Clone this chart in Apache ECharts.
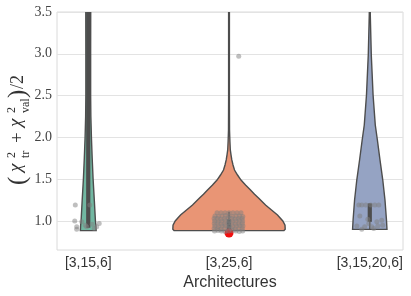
<!DOCTYPE html>
<html>
<head>
<meta charset="utf-8">
<script src="https://cdn.jsdelivr.net/npm/echarts@6/dist/echarts.min.js"></script>
<style>html,body{margin:0;padding:0;background:#fff;}#c{width:411px;height:296px;}</style>
</head>
<body>
<div id="c"></div>
<script>
const categories = ['[3,15,6]', '[3,25,6]', '[3,15,20,6]'];
const yTicks = [1.0, 1.5, 2.0, 2.5, 3.0, 3.5];

// violin profiles: [value, half-width in category units]
const profile1 = [[0.885,0.0560],[0.95,0.0540],[1.0,0.0510],[1.25,0.0430],[1.5,0.0345],[1.75,0.0280],[2.0,0.0225],[2.25,0.0185],[2.5,0.0170],[3.0,0.0170],[3.5,0.0175],[4.0,0.0175]];
const profile2 = [[0.885,0.3907],[0.9,0.3992],[0.95,0.3978],[1.0,0.3822],[1.072,0.3445],[1.132,0.3019],[1.191,0.2593],[1.275,0.2096],[1.32,0.1812],[1.371,0.1527],[1.43,0.1172],[1.49,0.0852],[1.55,0.0604],[1.61,0.0391],[1.67,0.0284],[1.73,0.0199],[1.79,0.0142],[1.85,0.0092],[1.95,0.0064],[2.09,0.0036],[2.5,0.0028],[3.0,0.0028],[3.6,0.0028]];
const profile3 = [[0.90,0.1222],[1.012,0.1186],[1.251,0.1080],[1.49,0.0923],[1.73,0.0725],[1.969,0.0540],[2.148,0.0391],[2.507,0.0234],[2.986,0.0107],[3.464,0.0036],[3.6,0.0028]];
const quartiles = [[0.92, 3.6], [0.90, 1.02], [0.99, 1.21]];
const whiskers = [[0.92, 3.6], [0.88, 1.11], [0.90, 1.21]];

// strip points: [offset from category, value]
const points1 = [[-0.092,1.19],[0.011,1.19],[-0.096,1.0],[-0.046,0.99],[0.078,0.97],[-0.082,0.93],[-0.011,0.93],[0.060,0.93],[-0.082,0.90],[-0.021,0.95],[0.028,0.96],[0.043,0.91]];
const points2 = [
  [-0.085,1.10],[-0.057,1.10],[-0.028,1.10],[0.0,1.10],[0.028,1.10],[0.057,1.10],[0.085,1.10],
  [-0.100,1.06],[-0.075,1.055],[-0.050,1.06],[-0.025,1.065],[0.000,1.06],[0.025,1.055],[0.050,1.06],[0.075,1.06],[0.098,1.055],
  [-0.106,1.03],[-0.083,1.03],[-0.058,1.025],[-0.031,1.03],[-0.006,1.035],[0.019,1.03],[0.044,1.025],[0.068,1.03],[0.093,1.03],
  [-0.102,1.00],[-0.077,0.995],[-0.052,1.00],[-0.027,1.005],[-0.002,1.00],[0.024,0.995],[0.049,1.00],[0.074,1.005],[0.097,1.00],
  [-0.105,0.97],[-0.080,0.97],[-0.055,0.965],[-0.030,0.97],[-0.005,0.975],[0.020,0.97],[0.046,0.965],[0.070,0.97],[0.095,0.97],
  [-0.101,0.94],[-0.076,0.935],[-0.050,0.94],[-0.026,0.945],[0.001,0.94],[0.026,0.935],[0.051,0.94],[0.076,0.945],[0.099,0.94],
  [-0.106,0.91],[-0.081,0.91],[-0.056,0.905],[-0.031,0.91],[-0.006,0.915],[0.019,0.91],[0.045,0.905],[0.070,0.91],[0.094,0.91],
  [-0.103,0.88],[-0.078,0.885],[-0.053,0.88],[-0.028,0.875],[-0.003,0.88],[0.022,0.885],[0.048,0.88],[0.073,0.875],[0.097,0.88],
  [0.069,2.97]];
const points3 = [[-0.078,1.19],[-0.057,1.19],[-0.028,1.19],[0.007,1.19],[0.036,1.19],[0.064,1.19],[-0.071,1.06],[-0.014,1.02],[0.050,0.99],[0.085,1.01],[-0.092,0.94],[-0.036,0.93],[0.014,0.93],[0.057,0.94],[0.092,0.95],[-0.007,0.97],[0.028,0.91],[-0.057,0.90]];
const highlight = [[1, 0.855]];

const profiles = [profile1, profile2, profile3];
const fillColors = ['#71b7a1', '#e99575', '#95a3c3'];
const edge = '#4d4d4d';

const stripData = []
  .concat(points1.map(p => [0 + p[0], p[1]]))
  .concat(points2.map(p => [1 + p[0], p[1]]))
  .concat(points3.map(p => [2 + p[0], p[1]]));

function renderViolin(params, api) {
  const i = params.dataIndex;
  const prof = profiles[i];
  const right = prof.map(d => api.coord([i + d[1], d[0]]));
  const left = prof.slice().reverse().map(d => api.coord([i - d[1], d[0]]));
  const q = quartiles[i], wk = whiskers[i];
  const c0 = api.coord([i, q[0]]), c1 = api.coord([i, q[1]]);
  const w0 = api.coord([i, wk[0]]), w1 = api.coord([i, wk[1]]);
  return {
    type: 'group',
    children: [
      {type: 'polygon', shape: {points: right.concat(left)}, style: {fill: fillColors[i], stroke: edge, lineWidth: 1.4}},
      {type: 'line', shape: {x1: w0[0], y1: w0[1], x2: w1[0], y2: w1[1]}, style: {stroke: edge, lineWidth: 1.3}},
      {type: 'line', shape: {x1: c0[0], y1: c0[1], x2: c1[0], y2: c1[1]}, style: {stroke: edge, lineWidth: 4.2, lineCap: 'butt'}}
    ]
  };
}

const serif = '"Liberation Serif", "DejaVu Serif", serif';
const txt = '#333';
function t(text, x, y, size, italic) {
  return {type: 'text', x: x, y: y, style: {text: text, font: (italic ? 'italic ' : '') + size + 'px ' + serif, fill: txt, align: 'left', verticalAlign: 'middle', textAlign: 'left', textVerticalAlign: 'middle'}};
}

const chart = echarts.init(document.getElementById('c'), null, {renderer: 'canvas'});
chart.setOption({
  animation: false,
  backgroundColor: '#fff',
  grid: {left: 57, right: 8, top: 12, bottom: 46, show: true, borderColor: '#dadada', borderWidth: 1, backgroundColor: 'transparent'},
  xAxis: {
    type: 'value', min: -0.222, max: 2.236,
    axisLine: {show: false}, axisTick: {show: false}, splitLine: {show: false},
    axisLabel: {customValues: [0, 1, 2], formatter: v => categories[Math.round(v)], fontFamily: '"Liberation Sans", Arial, sans-serif', fontSize: 14, color: txt, margin: 6},
    name: 'Architectures', nameLocation: 'middle', nameGap: 21,
    nameTextStyle: {fontFamily: '"Liberation Sans", Arial, sans-serif', fontSize: 16, color: txt}
  },
  yAxis: {
    type: 'value', min: 0.653, max: 3.5,
    axisLine: {show: false}, axisTick: {show: false}, splitLine: {show: false},
    axisLabel: {customValues: yTicks, formatter: v => v.toFixed(1), fontFamily: serif, fontSize: 14, color: '#444', margin: 5}
  },
  graphic: [{
    type: 'group', x: 19, y: 186, rotation: Math.PI / 2,
    children: [
      t('(', 1, -1, 25, false),
      t('χ', 14, -3, 19, true),
      t('2', 28, -7, 12, false),
      t('tr', 28, 6.5, 12, false),
      t('+', 43, -1, 19, false),
      t('χ', 59, -3, 19, true),
      t('2', 73, -7, 12, false),
      t('val', 73, 6.5, 12, false),
      t(')', 88, -1, 25, false),
      t('/2', 97, -1, 18, false)
    ]
  }],
  series: [
    {
      type: 'custom', z: 3, silent: true, clip: true,
      renderItem: renderViolin,
      encode: {x: 0, y: 1},
      data: [[0, 1], [1, 1], [2, 1]]
    },
    {
      type: 'scatter', z: 4, silent: true,
      symbolSize: 9, itemStyle: {color: '#f01010', opacity: 1},
      data: highlight
    },
    {
      type: 'scatter', z: 5, silent: true,
      symbolSize: 5, itemStyle: {color: '#808080', opacity: 0.5},
      data: stripData,
      markLine: {
        silent: true, symbol: 'none', z: 1, animation: false,
        label: {show: false},
        lineStyle: {color: '#e3e3e3', width: 1, type: 'solid'},
        data: yTicks.map(v => ({yAxis: v}))
      }
    }
  ]
});
</script>
</body>
</html>
